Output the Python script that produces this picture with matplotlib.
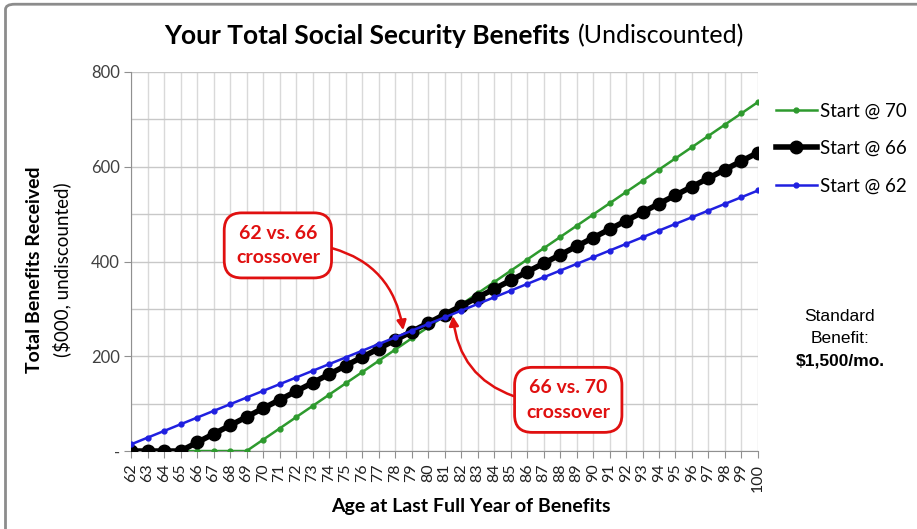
import numpy as np
import matplotlib
matplotlib.use("Agg")
import matplotlib.pyplot as plt
from matplotlib.patches import FancyBboxPatch

# ages (x categories)
ages = list(range(62, 101))

# cumulative benefits, $000
start_62 = [14.1, 28.2, 42.3, 56.4, 70.5, 84.6, 98.7, 112.8, 126.9, 141.0,
            155.1, 169.2, 183.3, 197.4, 211.5, 225.6, 239.7, 253.8, 267.9, 282.0,
            296.1, 310.2, 324.3, 338.4, 352.5, 366.6, 380.7, 394.8, 408.9, 423.0,
            437.1, 451.2, 465.3, 479.4, 493.5, 507.6, 521.7, 535.8, 549.9]
start_66 = [0, 0, 0, 0,
            18, 36, 54, 72, 90, 108, 126, 144, 162, 180, 198, 216, 234, 252, 270,
            288, 306, 324, 342, 360, 378, 396, 414, 432, 450, 468, 486, 504, 522,
            540, 558, 576, 594, 612, 630]
start_70 = [0, 0, 0, 0, 0, 0, 0, 0,
            23.8, 47.5, 71.3, 95.0, 118.8, 142.6, 166.3, 190.1, 213.8, 237.6,
            261.4, 285.1, 308.9, 332.6, 356.4, 380.2, 403.9, 427.7, 451.4, 475.2,
            499.0, 522.7, 546.5, 570.2, 594.0, 617.8, 641.5, 665.3, 689.0, 712.8,
            736.6]

y_ticks = [0, 200, 400, 600, 800]
y_ticklabels = ["-", "200", "400", "600", "800"]

calibri = ["Lato", "DejaVu Sans"]
arial = ["Liberation Sans", "DejaVu Sans"]
plt.rcParams['font.family'] = calibri

fig = plt.figure(figsize=(9.17, 5.29), dpi=100)
ax = fig.add_axes([0.1429, 0.1474, 0.8266 - 0.1429, 0.8639 - 0.1474])

# frame around the picture
frame = FancyBboxPatch((0.006, -0.1), 1.2, 1.092, boxstyle="round,pad=0,rounding_size=0.01",
                       transform=fig.transFigure, fill=False, edgecolor="#8c8c8c", lw=2.0,
                       clip_on=False)
fig.patches.append(frame)

ax.plot(ages, start_70, color="#2e9a2e", lw=1.8, marker="o", ms=3.5, label="Start @ 70", zorder=3)
ax.plot(ages, start_66, color="black", lw=4, marker="o", ms=9, label="Start @ 66", zorder=4)
ax.plot(ages, start_62, color="#2020e0", lw=1.8, marker="o", ms=3.5, label="Start @ 62", zorder=5)

ax.set_xlim(62, 100)
ax.set_ylim(0, 800)
ax.set_xticks(ages)
ax.set_xticklabels([str(a) for a in ages], rotation=90, fontsize=11.5, color="#202020")
ax.set_yticks(y_ticks)
ax.set_yticklabels(y_ticklabels, fontsize=12, color="#404040")
ax.set_yticks(range(0, 801, 100), minor=True)

ax.grid(axis="x", which="major", color="#d9d9d9", lw=1)
ax.grid(axis="y", which="both", color="#c8c8c8", lw=1)
ax.set_axisbelow(True)
for s in ["top", "right"]:
    ax.spines[s].set_visible(False)
for s in ["left", "bottom"]:
    ax.spines[s].set_color("#909090")
ax.tick_params(axis="x", length=5, color="#909090", pad=4)
ax.tick_params(axis="y", which="major", length=5, color="#909090", pad=3)
ax.tick_params(axis="y", which="minor", length=0)

# title
fig.text(0.622, 0.932, "Your Total Social Security Benefits", fontsize=19, fontweight="bold",
         ha="right", va="center")
fig.text(0.630, 0.932, "(Undiscounted)", fontsize=18, ha="left", va="center")

# axis labels
fig.text(0.038, 0.49, "Total Benefits Received", rotation=90, fontsize=14, fontweight="bold",
         ha="center", va="center")
fig.text(0.067, 0.49, "($000, undiscounted)", rotation=90, fontsize=13.5,
         ha="center", va="center")
fig.text(0.513, 0.042, "Age at Last Full Year of Benefits", fontsize=14, fontweight="bold",
         ha="center", va="center")

# legend
leg = ax.legend(loc="upper left", bbox_to_anchor=(1.016, 0.94), frameon=False, fontsize=13.5,
                handlelength=2.2, handletextpad=0.15, labelspacing=1.1, borderaxespad=0)

# standard benefit note
fig.text(0.916, 0.402, "Standard", fontsize=12.5, ha="center", va="center", family=arial)
fig.text(0.916, 0.361, "Benefit:", fontsize=12.5, ha="center", va="center", family=arial)
fig.text(0.916, 0.318, "$1,500/mo.", fontsize=12.5, fontweight="bold", ha="center",
         va="center", family=arial)

# crossover callouts
box = dict(boxstyle="round,pad=0.6,rounding_size=0.9", fc="white", ec="#e01010", lw=2)
ax.annotate("62 vs. 66\ncrossover", xy=(78.5, 255), xytext=(70.9, 434),
            fontsize=14, fontweight="bold", color="#e01010", ha="center", va="center",
            bbox=box, zorder=6, linespacing=1.55,
            arrowprops=dict(arrowstyle="-|>", color="#e01010", lw=1.8, mutation_scale=14,
                            connectionstyle="arc3,rad=-0.35", relpos=(1, 0.5), shrinkA=0, shrinkB=0))
ax.annotate("66 vs. 70\ncrossover", xy=(81.5, 285), xytext=(88.5, 108),
            fontsize=14, fontweight="bold", color="#e01010", ha="center", va="center",
            bbox=box, zorder=6, linespacing=1.55,
            arrowprops=dict(arrowstyle="-|>", color="#e01010", lw=1.8, mutation_scale=14,
                            connectionstyle="arc3,rad=-0.35", relpos=(0, 0.5), shrinkA=0, shrinkB=0))

fig.savefig("out.png", dpi=100)
